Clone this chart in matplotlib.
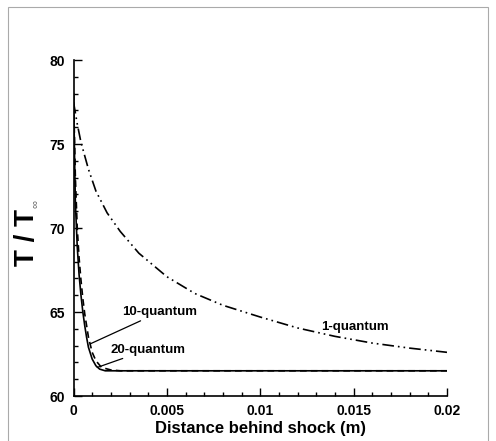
import matplotlib
matplotlib.use("Agg")
import matplotlib.pyplot as plt
from matplotlib.patches import Rectangle
from matplotlib.ticker import MultipleLocator

plt.rcParams['font.family'] = ['Liberation Sans', 'DejaVu Sans']

# 1-quantum (dash-dot-dot)
x1 = [0, 0.0002, 0.0004, 0.0008, 0.0012, 0.0018, 0.0025, 0.0035, 0.005, 0.0065,
      0.008, 0.01, 0.012, 0.014, 0.016, 0.018, 0.02]
t1 = [77.5, 76.2, 75.1, 73.5, 72.2, 70.9, 69.8, 68.5, 67.1, 66.1,
      65.4, 64.7, 64.05, 63.55, 63.15, 62.85, 62.6]

# 10-quantum (dashed)
x10 = [0, 0.0001, 0.0002, 0.0003, 0.0004, 0.0005, 0.0006, 0.0008, 0.001, 0.0012,
       0.0015, 0.002, 0.0025, 0.005, 0.01, 0.02]
t10 = [78.0, 73.0, 70.0, 68.2, 66.9, 65.8, 64.9, 63.5, 62.6, 62.1,
       61.7, 61.55, 61.5, 61.5, 61.5, 61.5]

# 20-quantum (solid)
x20 = [0, 0.0001, 0.0002, 0.0003, 0.0004, 0.0005, 0.0006, 0.0007, 0.0008, 0.001,
       0.0012, 0.0014, 0.0017, 0.002, 0.0025, 0.005, 0.01, 0.015, 0.02]
t20 = [78.0, 71.5, 68.9, 67.2, 66.0, 65.0, 64.2, 63.5, 62.9, 62.2,
       61.8, 61.6, 61.5, 61.5, 61.5, 61.5, 61.5, 61.5, 61.5]

xticks = [0, 0.005, 0.01, 0.015, 0.02]
xticklabels = ["0", "0.005", "0.01", "0.015", "0.02"]
yticks = [60, 65, 70, 75, 80]

fig = plt.figure(figsize=(4.96, 4.41), dpi=100)
ax = fig.add_axes([73.5/496, 45/441, (447-73.5)/496, (396-60)/441])

ax.plot(x1, t1, color='black', lw=1.2, linestyle=(0, (7, 2.4, 1, 2.4, 1, 2.4)))
ax.plot(x10, t10, color='black', lw=1.2, linestyle=(0, (4, 2.5)))
ax.plot(x20, t20, color='black', lw=1.2, linestyle='-')

ax.set_xlim(0, 0.02)
ax.set_ylim(60, 80)
ax.set_xticks(xticks)
ax.set_xticklabels(xticklabels)
ax.set_yticks(yticks)
ax.xaxis.set_minor_locator(MultipleLocator(0.001))
ax.yaxis.set_minor_locator(MultipleLocator(1))
ax.tick_params(which='both', direction='in', width=1.0)
ax.tick_params(which='major', length=6, labelsize=10, pad=6)
ax.tick_params(which='minor', length=3)
for lab in ax.get_xticklabels() + ax.get_yticklabels():
    lab.set_fontweight('bold')
ax.spines['top'].set_visible(False)
ax.spines['right'].set_visible(False)
ax.spines['left'].set_linewidth(1.2)
ax.spines['bottom'].set_linewidth(1.2)

ax.set_xlabel("Distance behind shock (m)", fontsize=12, fontweight='bold', labelpad=2)
fig.text(27/496, 1 - 237/441, "T / T", rotation=90, fontsize=20,
         fontweight='bold', ha='center', va='center')
fig.text(35/496, 1 - 204/441, "\u221e", rotation=90, fontsize=8,
         color='#666666', ha='center', va='center')

ax.annotate("10-quantum", xy=(0.00089, 63.1), xytext=(0.00261, 64.64),
            fontsize=9.5, fontweight='bold', ha='left', va='bottom',
            arrowprops=dict(arrowstyle='-', color='black', lw=0.9, shrinkA=0, shrinkB=0))
ax.annotate("20-quantum", xy=(0.00127, 61.7), xytext=(0.00196, 62.4),
            fontsize=9.5, fontweight='bold', ha='left', va='bottom',
            arrowprops=dict(arrowstyle='-', color='black', lw=0.9, shrinkA=0, shrinkB=0))
ax.text(0.01509, 64.1, "1-quantum", fontsize=9.5, fontweight='bold', ha='center', va='center')

fig.patches.append(Rectangle((8/496, -0.01), (488-8)/496, 1 - 7/441 + 0.01,
                             transform=fig.transFigure, fill=False,
                             edgecolor='#aaaaaa', lw=0.8))

fig.savefig("out.png", dpi=100)
